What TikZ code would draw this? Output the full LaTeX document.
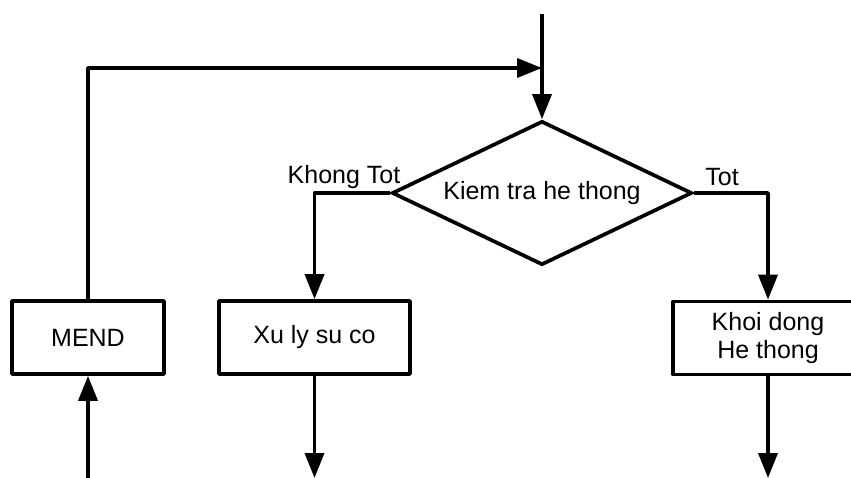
\documentclass[tikz,border=0pt]{standalone}
\usepackage{fontspec}
\setmainfont{Liberation Sans}
\usetikzlibrary{shapes.geometric,arrows.meta}
\begin{document}
\begin{tikzpicture}[x=1pt,y=-1pt,
  every node/.style={font=\fontsize{25}{27.5}\selectfont},
  flow/.style={line width=3.7pt,line join=round},
  arr/.style={flow,-{Triangle[length=25pt,width=19pt]}},
  procbox/.style={draw,line width=3.7pt,line join=round,minimum height=73pt,inner sep=0pt,align=center},
  decision/.style={draw,diamond,line width=3.7pt,shape aspect=2.08,minimum width=300pt,minimum height=144pt,inner sep=0pt},
  branch/.style={inner sep=0pt}]
\useasboundingbox (0,0) rectangle (851,478);
\clip (0,0) rectangle (851,478);

% decision and process blocks
\node[decision] (dia) at (542,193) {Kiem tra he thong};
\node[procbox,minimum width=152pt] (mend) at (88,337.5) {MEND};
\node[procbox,minimum width=191pt] (xuly) at (314.5,337.5) {Xu ly su co};
\node[procbox,minimum width=190pt] (khoi) at (768,338) {Khoi dong\\He thong};

% branch labels
\node[branch] (lblno) at (344,177) {Khong Tot};
\node[branch] (lblyes) at (722,177) {Tot};

% free ends of the flow lines
\coordinate (topin) at (542,14);
\coordinate (merge) at (542,68);
\coordinate (mendin) at (88,478);
\coordinate (xuout) at (314.5,478);
\coordinate (khout) at (768,478);

% connectors
\draw[arr] (topin) -- (dia.north);
\draw[arr] (mend.north) |- (merge);
\draw[arr] (dia.west) -| (xuly.north);
\draw[arr] (dia.east) -| (khoi.north);
\draw[arr] (mendin) -- (mend.south);
\draw[arr] (xuly.south) -- (xuout);
\draw[arr] (khoi.south) -- (khout);
\end{tikzpicture}
\end{document}
